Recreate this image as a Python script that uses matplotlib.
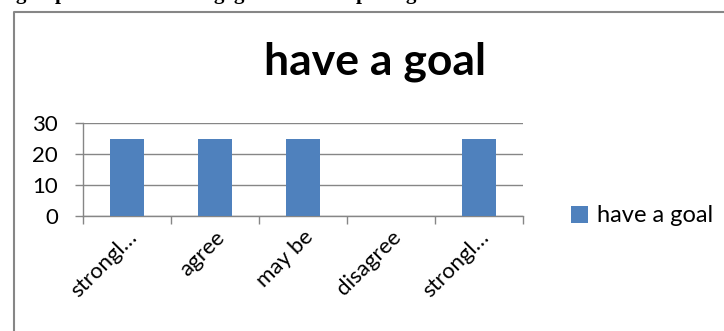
import matplotlib
matplotlib.use("Agg")
import matplotlib.pyplot as plt
from matplotlib.lines import Line2D

categories = ["strongl…", "agree", "may be", "disagree", "strongl…"]
values = [25, 25, 25, 0, 25]
series_name = "have a goal"
title = "have a goal"
yticks = [0, 10, 20, 30]

W, H = 724, 331
plt.rcParams['font.family'] = ['Lato', 'DejaVu Sans']
fig = plt.figure(figsize=(W / 100, H / 100), dpi=100)

# clipped heading above the chart (only descenders visible)
for ch, xp in [("g", 16), ("p", 55), ("g", 213), ("g", 233), ("p", 356), ("g", 406)]:
    t = fig.text(xp / W, 1 + 1.0 / H, ch, fontsize=15, fontweight='bold',
                 family='Liberation Serif', ha='left', va='baseline')
    t.set_in_layout(False)

# chart frame (left and top edges; right and bottom fall outside the image)
x0 = 13.5 / W
y1 = 1 - 11.5 / H
frame = Line2D([x0, x0, 1.0], [0.0, y1, y1], transform=fig.transFigure,
               color='#868686', lw=1.5)
frame.set_in_layout(False)
fig.add_artist(frame)

ax = fig.add_axes([83 / W, 1 - 216 / H, 440 / W, 93 / H])
x = list(range(len(categories)))
ax.bar(x, values, width=0.39, color='#4f81bd', label=series_name, zorder=3)
ax.set_xlim(-0.5, len(categories) - 0.5)
ax.set_ylim(0, 30)
ax.set_yticks(yticks)
ax.set_yticklabels([str(v) for v in yticks], fontsize=16)
ax.set_xticks([i - 0.5 for i in range(len(categories) + 1)], minor=False)
ax.set_xticklabels([])
ax.set_xticks(x, minor=True)
ax.set_xticklabels(categories, minor=True, rotation=45, ha='right',
                   rotation_mode='anchor', fontsize=16)
ax.tick_params(axis='x', which='minor', length=0, pad=8)
ax.tick_params(axis='x', which='major', length=6, color='#868686', width=1)
ax.tick_params(axis='y', length=6, color='#868686', width=1, pad=12)
ax.grid(axis='y', color='#868686', lw=1, zorder=0)
for s in ['top', 'right']:
    ax.spines[s].set_visible(False)
for s in ['left', 'bottom']:
    ax.spines[s].set_color('#868686')
    ax.spines[s].set_linewidth(1)
ax.set_facecolor('none')

fig.text(375 / W, 1 - 62 / H, title, fontsize=32, fontweight='bold',
         ha='center', va='center')

leg = fig.legend(loc='center left', bbox_to_anchor=(562 / W, 1 - 216 / H),
                 frameon=False, fontsize=17, handlelength=0.7,
                 handleheight=0.7, handletextpad=0.4, borderaxespad=0)

fig.savefig("out.png", dpi=100)
